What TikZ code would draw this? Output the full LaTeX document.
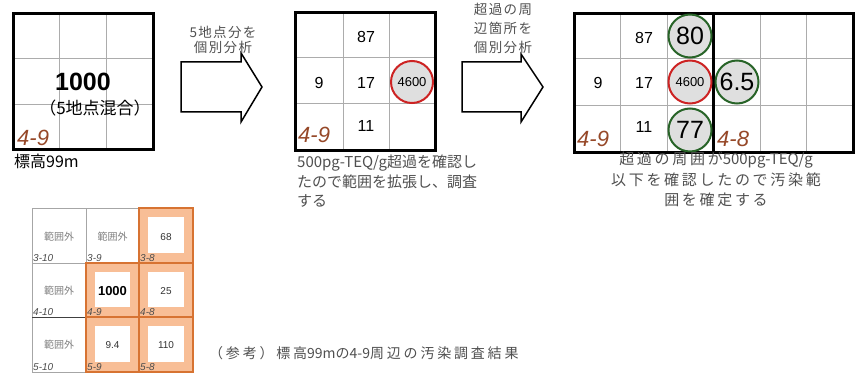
\documentclass[tikz,border=0pt]{standalone}
\usepackage{fontspec}
\setmainfont{Liberation Sans}
\newfontfamily\jp{Noto Sans CJK JP}
\newfontfamily\jpa[LetterSpace=10]{Noto Sans CJK JP}
\newfontfamily\jpb[LetterSpace=18]{Noto Sans CJK JP}
\newfontfamily\jpc[LetterSpace=20]{Noto Sans CJK JP}
\newcommand\fsz[2]{\fontsize{#1}{#2}\selectfont}
\definecolor{labbrown}{RGB}{150,72,40}
\definecolor{capgray}{RGB}{80,80,80}
\definecolor{ringred}{RGB}{205,35,35}
\definecolor{ringgreen}{RGB}{40,100,40}
\definecolor{orfill}{RGB}{248,190,150}
\definecolor{oredge}{RGB}{215,115,50}
\tikzset{
  thinline/.style={draw=gray!65, line width=1},
  thickline/.style={draw=black, line width=3},
  num/.style={font=\fsz{16}{19}, inner sep=0},
  bignum/.style={font=\fsz{25}{28}, inner sep=0},
  cellid/.style={font=\fsz{22}{24}\itshape, text=labbrown, inner sep=0, anchor=base west},
  ring/.style={circle, fill=gray!25, line width=2, minimum size=43, inner sep=0},
  redring/.style={ring, draw=ringred},
  greenring/.style={ring, draw=ringgreen},
  arrowshape/.style={draw=black, line width=1.5, fill=white, line join=miter},
  caption/.style={text=capgray, inner sep=0},
  wcell/.style={draw=gray!70, line width=1},
  ocell/.style={draw=oredge, line width=1.5, fill=orfill},
  smallid/.style={font=\fsz{10}{12}\itshape, text=black!70, inner sep=0, anchor=base west},
  outside/.style={font=\jp\fsz{10}{12}, text=gray, inner sep=0},
  smallnum/.style={font=\fsz{10}{12}, text=black!80, inner sep=0}
}
\begin{document}
\begin{tikzpicture}[x=1pt,y=-1pt]
\useasboundingbox (0,0) rectangle (861,374);
\fill[white] (0,0) rectangle (861,374);

% ---------- grid 1 ----------
\draw[thinline] (59.7,14) -- (59.7,150) (106.3,14) -- (106.3,150)
                (13,59) -- (153,59) (13,105) -- (153,105);
\draw[thickline] (13,14) rectangle (153,150);
\node[font=\fsz{25}{28}\bfseries, inner sep=0] (g1val) at (83,82) {1000};
\node[font=\jp\fsz{17}{19}, inner sep=0] (g1mix) at (95,108) {（5地点混合）};
\node[cellid] (g1id) at (17,146) {4-9};
\node[font=\jp\fsz{16}{18}, inner sep=0, anchor=west] (g1elev) at (14,161) {標高99m};

% ---------- arrow 1 ----------
\draw[arrowshape] (181,62) -- (241,62) -- (241,53) -- (262,87) -- (241,122) -- (241,112) -- (181,112) -- cycle;
\node[caption, font=\jpa\fsz{13.5}{15.5}, align=center] (a1txt) at (223,40) {5地点分を\\個別分析};

% ---------- grid 2 ----------
\draw[thinline] (343,13) -- (343,151) (389,13) -- (389,151)
                (295,58) -- (435,58) (295,104) -- (435,104);
\draw[thickline] (295,13) rectangle (435,151);
\node[num] (g2a) at (366,37) {87};
\node[num] (g2b) at (319,83) {9};
\node[num] (g2c) at (366,83) {17};
\node[num] (g2d) at (366,126) {11};
\node[redring, minimum size=42, font=\fsz{13}{15}] (g2r) at (412,82) {4600};
\node[cellid] (g2id) at (298,143) {4-9};
\node[caption, font=\jp\fsz{15}{19.5}, align=left, anchor=north west] (g2cap) at (297,155)
  {500pg-TEQ/g超過を確認し\\たので範囲を拡張し、調査\\する};

% ---------- arrow 2 ----------
\draw[arrowshape] (462,62) -- (521,62) -- (521,54) -- (543,87) -- (521,122) -- (521,112) -- (462,112) -- cycle;
\node[caption, font=\jpa\fsz{13.5}{19}, align=center] (a2txt) at (503,28) {超過の周\\辺箇所を\\個別分析};

% ---------- grid 3 ----------
\draw[thinline] (620.5,14) -- (620.5,153) (667,14) -- (667,153)
                (760,14) -- (760,153) (806.5,14) -- (806.5,153)
                (574,59) -- (853,59) (574,106) -- (853,106);
\draw[thickline] (574,14) rectangle (853,153);
\draw[thickline] (713.5,14) -- (713.5,153);
\node[num] (g3a) at (644,38) {87};
\node[num] (g3b) at (598,83) {9};
\node[num] (g3c) at (644,83) {17};
\node[num] (g3d) at (644,127) {11};
\node[greenring, bignum] (g3g1) at (690,36) {80};
\node[redring, font=\fsz{13}{15}] (g3r) at (690,82) {4600};
\node[greenring, bignum] (g3g2) at (690,130) {77};
\node[greenring, bignum] (g3g3) at (737,82) {6.5};
\node[cellid] (g3id1) at (577,147) {4-9};
\node[cellid] (g3id2) at (717,147) {4-8};
\node[caption, font=\jpb\fsz{15}{20.5}, align=center, anchor=north] (g3cap) at (716,152)
  {超過の周囲が{\jp 500pg-TEQ/g}\\以下を確認したので汚染範\\囲を確定する};

% ---------- reference grid ----------
% white cells
\draw[wcell] (32,208) rectangle (86,263);
\draw[wcell] (86,208) rectangle (139,263);
\draw[wcell] (32,263) rectangle (86,317);
\draw[wcell] (32,317) rectangle (86,372);
\draw[draw=black!75, line width=1] (32,317) -- (86,317);
% orange cells
\foreach \xa/\ya/\xb/\yb in {139/208/193/263, 86/263/139/317, 139/263/193/317, 86/317/139/372, 139/317/193/372}{
  \draw[ocell] (\xa,\ya) rectangle (\xb,\yb);
  \fill[white] (\xa+9,\ya+9) rectangle (\xb-9,\yb-10);
}
\node[outside] (r310t) at (59,237) {範囲外};
\node[outside] (r39t) at (112.5,237) {範囲外};
\node[outside] (r410t) at (59,291) {範囲外};
\node[outside] (r510t) at (59,345) {範囲外};
\node[smallnum] (r38t) at (166,237) {68};
\node[font=\fsz{13}{15}\bfseries, inner sep=0] (r49t) at (112.5,291) {1000};
\node[smallnum] (r48t) at (166,291) {25};
\node[smallnum] (r59t) at (112.5,345) {9.4};
\node[smallnum] (r58t) at (166,345) {110};
\node[smallid] (r310) at (33,261.5) {3-10};
\node[smallid] (r39) at (87,261.5) {3-9};
\node[smallid] (r38) at (140,261.5) {3-8};
\node[smallid] (r410) at (33,315.5) {4-10};
\node[smallid] (r49) at (87,315.5) {4-9};
\node[smallid] (r48) at (140,315.5) {4-8};
\node[smallid] (r510) at (33,370.5) {5-10};
\node[smallid] (r59) at (87,370.5) {5-9};
\node[smallid] (r58) at (140,370.5) {5-8};
\node[caption, font=\jpc\fsz{14}{16}, anchor=west] (refcap) at (209,353) {（参考）標高{\jp 99m}の{\jp 4-9}周辺の汚染調査結果};
\end{tikzpicture}
\end{document}
